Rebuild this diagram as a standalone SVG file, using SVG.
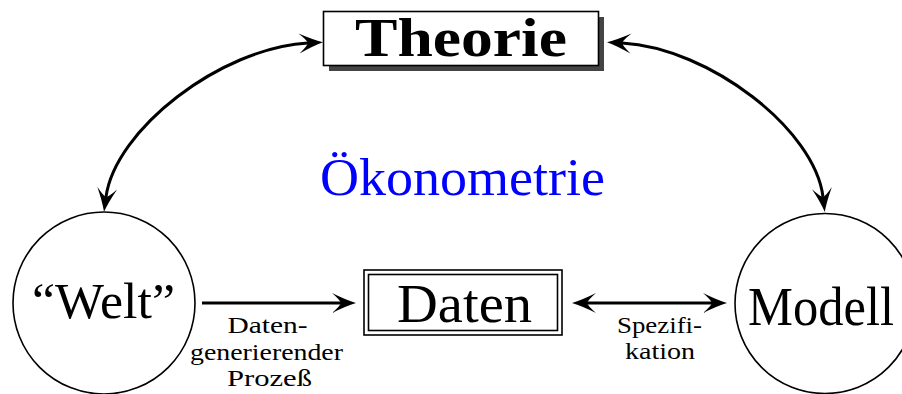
<svg xmlns="http://www.w3.org/2000/svg" width="902" height="394" viewBox="0 0 902 394">
<style>
.t{font-family:"Liberation Serif","DejaVu Serif",serif;fill:#000;text-anchor:middle}
.c{fill:#fff;stroke:#000;stroke-width:1.6}
.e{fill:none;stroke:#000;stroke-width:3}
</style>
<defs>
<marker id="ah" markerUnits="userSpaceOnUse" markerWidth="30" markerHeight="24" viewBox="-10 -12 30 24" refX="0" refY="0" orient="auto-start-reverse" overflow="visible">
<path d="M15,0 Q5,-3 -9,-10 Q-1,-3 0,0 Q-1,3 -9,10 Q5,3 15,0 Z" fill="#000"/>
</marker>
</defs>
<rect width="902" height="394" fill="#fff"/>
<g id="theorie">
<rect x="329" y="17" width="275" height="54" fill="#444"/>
<rect class="c" x="323.5" y="11.5" width="275" height="54"/>
<text class="t" x="461" y="56" font-size="54" font-weight="bold" textLength="212" lengthAdjust="spacingAndGlyphs">Theorie</text>
</g>
<g id="oekonometrie">
<text class="t" x="462.5" y="195" font-size="52" style="fill:#0000ff" textLength="285" lengthAdjust="spacingAndGlyphs">Ökonometrie</text>
</g>
<g id="welt">
<circle class="c" cx="104" cy="303" r="91"/>
<text class="t" x="103.5" y="318" font-size="50" textLength="143" lengthAdjust="spacingAndGlyphs">“Welt”</text>
</g>
<g id="daten">
<rect class="c" x="364" y="270" width="198" height="65"/>
<rect class="c" x="368.5" y="274.5" width="189" height="56"/>
<text class="t" x="464.5" y="322" font-size="54" textLength="135" lengthAdjust="spacingAndGlyphs">Daten</text>
</g>
<g id="modell">
<circle class="c" cx="825" cy="303.5" r="90"/>
<text class="t" x="821" y="325" font-size="54" textLength="146" lengthAdjust="spacingAndGlyphs">Modell</text>
</g>
<g id="connectors">
<path class="e" d="M106,197 C115,130 220,48 308,43" marker-start="url(#ah)" marker-end="url(#ah)"/>
<path class="e" d="M622,43 C710,48 815,130 823,197" marker-start="url(#ah)" marker-end="url(#ah)"/>
<path class="e" d="M202,303 L341,303" marker-end="url(#ah)"/>
<path class="e" d="M587,303 L712,303" marker-start="url(#ah)" marker-end="url(#ah)"/>
<g class="t" font-size="24">
<text x="267.5" y="333" textLength="80" lengthAdjust="spacingAndGlyphs">Daten-</text>
<text x="266.5" y="360" textLength="153" lengthAdjust="spacingAndGlyphs">generierender</text>
<text x="269.5" y="386" textLength="85" lengthAdjust="spacingAndGlyphs">Prozeß</text>
<text x="659.5" y="333" textLength="85" lengthAdjust="spacingAndGlyphs">Spezifi-</text>
<text x="660" y="359" textLength="70" lengthAdjust="spacingAndGlyphs">kation</text>
</g>
</g>
</svg>
